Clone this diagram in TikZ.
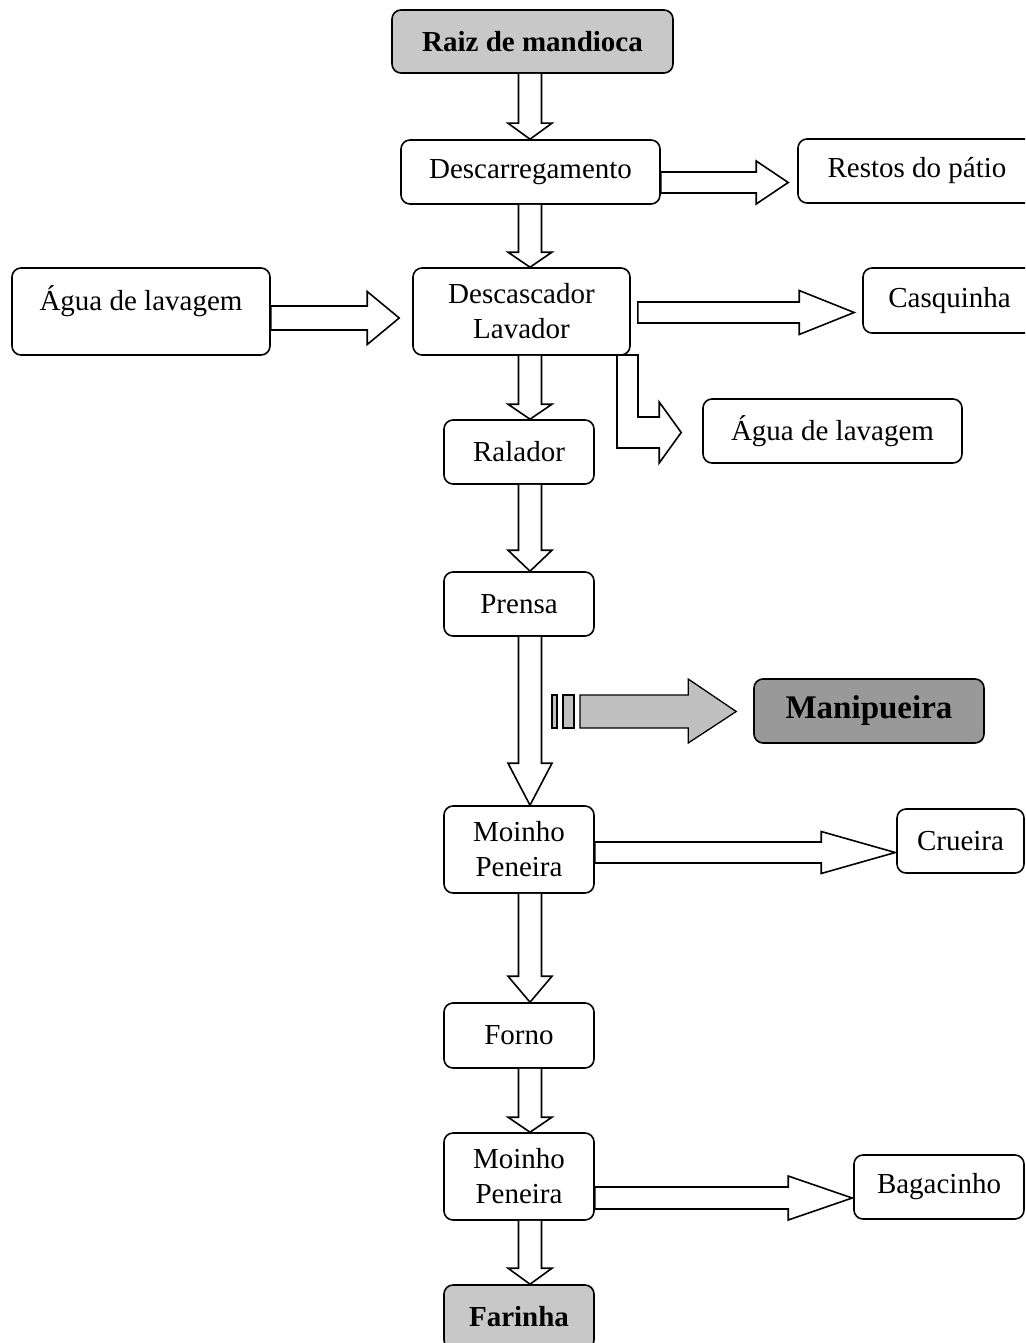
\documentclass[tikz,border=0pt]{standalone}
\usepackage{fontspec}
\setmainfont{Liberation Serif}
\usetikzlibrary{calc}
\definecolor{lg}{RGB}{200,200,200}
\definecolor{dg}{RGB}{153,153,153}
\definecolor{ag}{RGB}{192,192,192}
% vertical block arrow: from, to, head length, x centre
\newcommand{\vblk}[4]{%
\draw[blk] let \p1=(#1.south), \p2=(#2.north) in
 ({#4pt-11.5pt},\y1) -- ({#4pt-11.5pt},{\y2+#3pt}) -- ({#4pt-22pt},{\y2+#3pt}) -- (#4pt,\y2)
 -- ({#4pt+22pt},{\y2+#3pt}) -- ({#4pt+11.5pt},{\y2+#3pt}) -- ({#4pt+11.5pt},\y1);}
% horizontal block arrow: from, to, y, shaft half, head half, head length, start gap, end gap
\newcommand{\hblk}[8]{%
\draw[blk] let \p1=(#1.east), \p2=(#2.west) in
 ({\x1+#7pt},{#3pt+#4pt}) -- ({\x2-#8pt-#6pt},{#3pt+#4pt}) -- ({\x2-#8pt-#6pt},{#3pt+#5pt})
 -- ({\x2-#8pt},#3pt) -- ({\x2-#8pt-#6pt},{#3pt-#5pt}) -- ({\x2-#8pt-#6pt},{#3pt-#4pt})
 -- ({\x1+#7pt},{#3pt-#4pt}) -- cycle;}
\begin{document}
\begin{tikzpicture}[x=1pt,y=1pt,
  bx/.style={draw, line width=1.6pt, rounded corners=9pt, inner sep=0pt, align=center,
    font=\fontsize{29}{35}\selectfont},
  bbx/.style={bx, font=\fontsize{29}{35}\selectfont\bfseries},
  sz/.style 2 args={minimum width=#1pt, minimum height=#2pt},
  blk/.style={draw, line width=1.6pt, fill=white, line join=miter}]
\useasboundingbox (0,0) rectangle (1025,-1343);
\clip (0,0) rectangle (1025,-1343);

% bent arrow (drawn under the box)
\node[bx, sz={259}{64}] (agua2) at (832.5,-431) {Água de lavagem};
\path (521.5,-311.5) coordinate (dsc);
\draw[blk] let \p1=($(dsc)+(0,-43.5)$), \p2=(agua2.west) in
 (617pt,\y1) -- (617pt,-448pt) -- ({\x2-43pt},-448pt) -- ({\x2-43pt},-463pt) -- ({\x2-21pt},-432.5pt)
 -- ({\x2-43pt},-402pt) -- ({\x2-43pt},-417pt) -- (638pt,-417pt) -- (638pt,\y1) -- cycle;

\node[bbx, fill=lg, sz={281}{63}] (raiz) at (532.5,-41.5) {Raiz de mandioca};
\node[bx, sz={259}{64}] (desc) at (530.5,-172) {Descarregamento};
\node[bx, sz={238}{64}] (restos) at (917,-171) {Restos do pátio};
\node[bx, sz={258}{87}, text height=20pt, text depth=23pt] (agua1) at (141,-311.5) {Água de lavagem};
\node[bx, sz={217}{87}] (descasc) at (dsc) {Descascador\\Lavador};
\node[bx, sz={173}{65}] (casq) at (949.5,-300.5) {Casquinha};
\node[bx, sz={150}{64}] (ralador) at (519,-452) {Ralador};
\node[bx, sz={150}{64}] (prensa) at (519,-604) {Prensa};
\node[bx, fill=dg, sz={230}{64}, font=\fontsize{33}{40}\selectfont\bfseries] (manip) at (869,-711) {Manipueira};
\node[bx, sz={150}{87}] (moinho1) at (519,-849.5) {Moinho\\Peneira};
\node[bx, sz={127}{64}] (crueira) at (960.5,-841) {Crueira};
\node[bx, sz={150}{65}] (forno) at (519,-1035.5) {Forno};
\node[bx, sz={150}{87}] (moinho2) at (519,-1176.5) {Moinho\\Peneira};
\node[bx, sz={170}{64}] (bagac) at (939,-1187) {Bagacinho};
\node[bbx, fill=lg, sz={150}{64}] (farinha) at (519,-1317) {Farinha};

\vblk{raiz}{desc}{16}{530}
\vblk{desc}{descasc}{15}{530}
\vblk{descasc}{ralador}{15}{530}
\vblk{ralador}{prensa}{21}{530}
\vblk{prensa}{moinho1}{42}{530}
\vblk{moinho1}{forno}{26}{530}
\vblk{forno}{moinho2}{15}{530}
\vblk{moinho2}{farinha}{16}{530}

\hblk{desc}{restos}{-182.5}{10.5}{21.5}{32}{0}{9}
\hblk{agua1}{descasc}{-318}{12}{26.5}{32}{0}{13}
\hblk{descasc}{casq}{-312.5}{10.5}{22}{55}{7}{8}
\hblk{moinho1}{crueira}{-852.5}{10.5}{21}{74}{0}{1}
\hblk{moinho2}{bagac}{-1198}{11}{22}{64}{0}{1}

% grey striped arrow towards Manipueira
\draw[blk, fill=ag, line width=1.3pt] (552,-695) rectangle (557,-728);
\draw[blk, fill=ag, line width=1.3pt] (563,-695) rectangle (574,-728);
\draw[blk, fill=ag, line width=1.3pt] let \p1=(manip.west) in
 (580pt,-695pt) -- ({\x1-65pt},-695pt) -- ({\x1-65pt},-679pt) -- ({\x1-17pt},-711.5pt)
 -- ({\x1-65pt},-743pt) -- ({\x1-65pt},-728pt) -- (580pt,-728pt) -- cycle;
\end{tikzpicture}
\end{document}
